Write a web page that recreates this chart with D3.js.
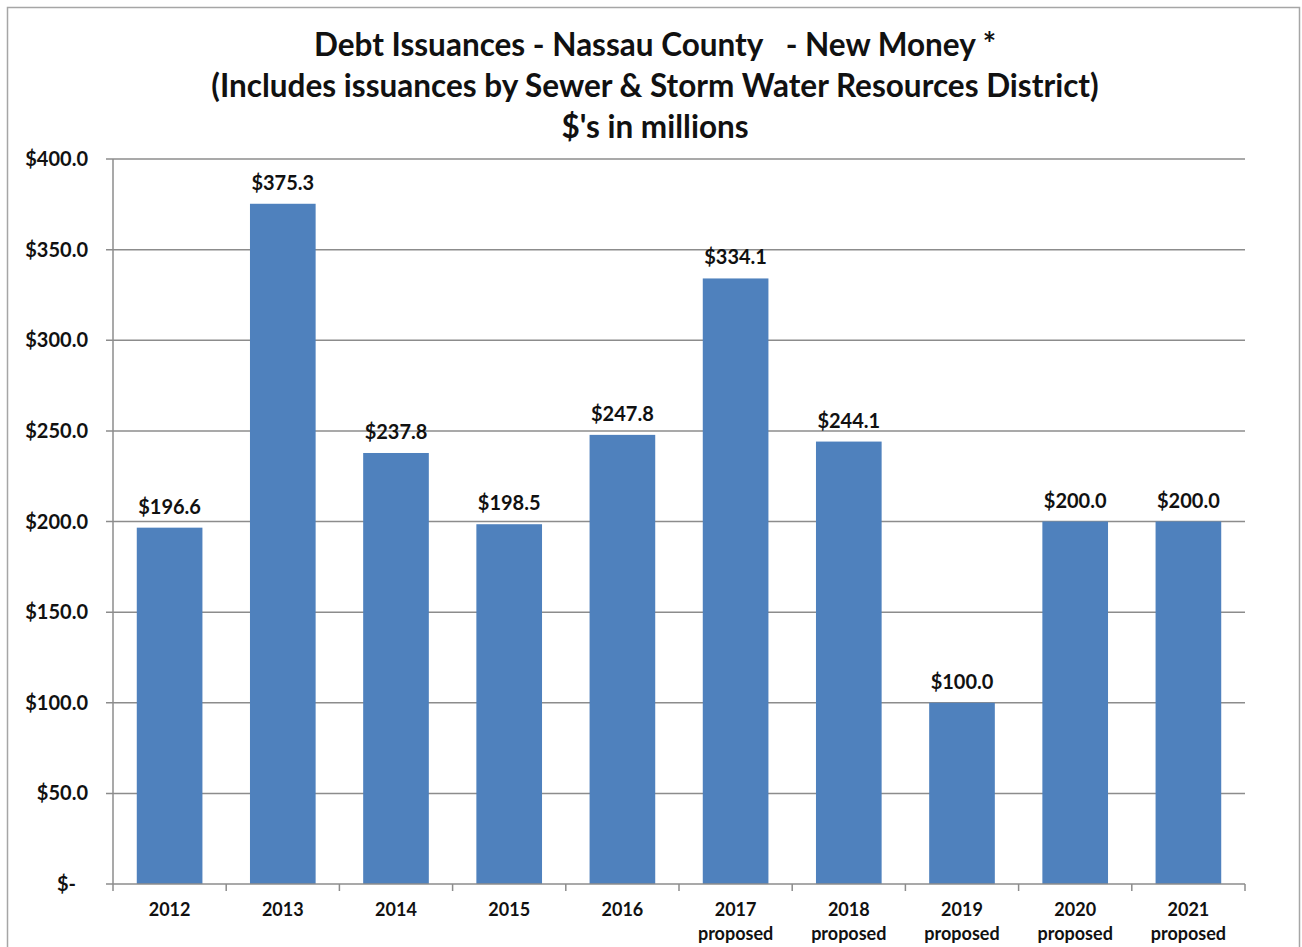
<!DOCTYPE html>
<html><head><meta charset="utf-8">
<script src="https://cdn.jsdelivr.net/npm/d3@7"></script>
<style>body{margin:0;background:#fff}svg{display:block;font-family:Lato,"Open Sans",sans-serif;font-weight:bold}</style>
</head><body>
<script>
const years = ["2012","2013","2014","2015","2016","2017","2018","2019","2020","2021"];
const subLabels = ["","","","","","proposed","proposed","proposed","proposed","proposed"];
const values = [196.6,375.3,237.8,198.5,247.8,334.1,244.1,100.0,200.0,200.0];
const yTicks = [0,50,100,150,200,250,300,350,400];
const titleLines = ["Debt Issuances - Nassau County   - New Money *","(Includes issuances by Sewer & Storm Water Resources District)","$'s in millions"];

const W=1302,H=947;
const svg=d3.select("body").append("svg").attr("width",W).attr("height",H);
svg.append("rect").attr("x",7.5).attr("y",7.5).attr("width",1292).attr("height",945).attr("fill","#fff").attr("stroke","#a6a6a6").attr("stroke-width",1.5);

const L=113,R=1245,T=159,B=884;
const x=d3.scaleBand().domain(years).range([L,R]).paddingInner(0.42).paddingOuter(0.21);
const y=d3.scaleLinear().domain([0,400]).range([B,T]);
const ink="#111";

// gridlines
svg.append("g").selectAll("line").data(yTicks.filter(d=>d>0)).join("line")
 .attr("x1",L-7).attr("x2",R).attr("y1",d=>y(d)).attr("y2",d=>y(d))
 .attr("stroke","#8c8c8c").attr("stroke-width",1.5);

// bars
svg.append("g").selectAll("rect").data(values).join("rect")
 .attr("x",(d,i)=>x(years[i])).attr("width",x.bandwidth())
 .attr("y",d=>y(d)).attr("height",d=>B-y(d)).attr("fill","#4f81bd");

// axes lines
svg.append("line").attr("x1",L).attr("x2",L).attr("y1",T).attr("y2",B).attr("stroke","#8c8c8c").attr("stroke-width",1.5);
svg.append("line").attr("x1",L-7).attr("x2",R).attr("y1",B).attr("y2",B).attr("stroke","#8c8c8c").attr("stroke-width",1.5);
svg.append("g").selectAll("text").data(yTicks).join("text")
 .attr("x",d=>d===0?76:88).attr("y",d=>y(d)).attr("dy","0.35em").attr("text-anchor","end")
 .attr("font-size",20).attr("fill",ink)
 .text(d=>d===0?"$-":"$"+d3.format(".1f")(d));

// x ticks at band boundaries
const step=(R-L)/years.length;
svg.append("g").selectAll("line").data(d3.range(years.length+1)).join("line")
 .attr("x1",i=>L+i*step).attr("x2",i=>L+i*step).attr("y1",B).attr("y2",B+7)
 .attr("stroke","#8c8c8c").attr("stroke-width",1.5);

svg.append("g").selectAll("text").data(years).join("text")
 .attr("x",d=>x(d)+x.bandwidth()/2).attr("y",916).attr("text-anchor","middle")
 .attr("font-size",18).attr("fill",ink).text(d=>d);
svg.append("g").selectAll("text").data(subLabels).join("text")
 .attr("x",(d,i)=>x(years[i])+x.bandwidth()/2).attr("y",940).attr("text-anchor","middle")
 .attr("font-size",18).attr("fill",ink).text(d=>d);

// data labels
svg.append("g").selectAll("text").data(values).join("text")
 .attr("x",(d,i)=>x(years[i])+x.bandwidth()/2).attr("y",d=>y(d)-14).attr("text-anchor","middle")
 .attr("font-size",20).attr("fill",ink).text(d=>"$"+d3.format(".1f")(d));

// title
svg.append("g").selectAll("text").data(titleLines).join("text")
 .attr("x",655).attr("y",(d,i)=>56+i*41).attr("text-anchor","middle")
 .attr("font-size",31.5).attr("fill",ink).attr("xml:space","preserve").style("white-space","pre").text(d=>d);
</script>
</body></html>
